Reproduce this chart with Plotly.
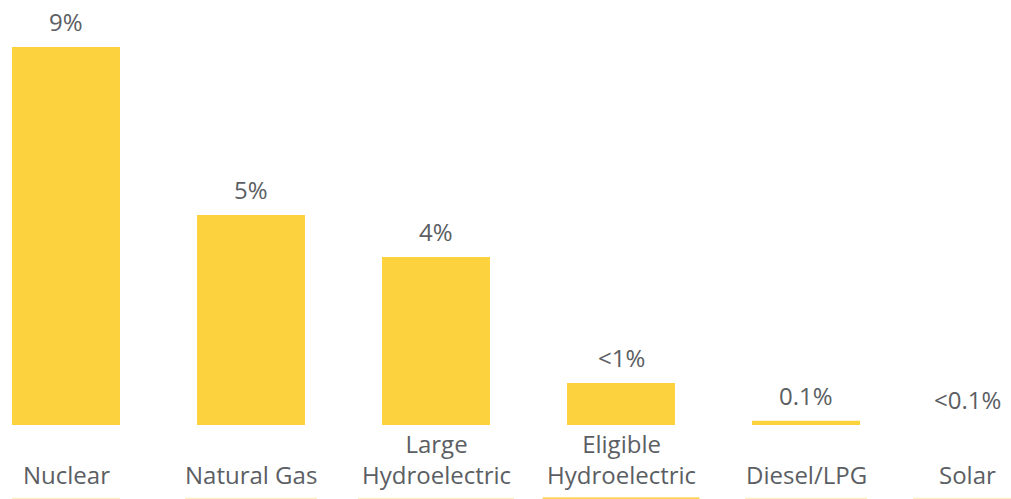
import plotly.graph_objects as go

categories = ["Nuclear", "Natural Gas", "Large<br>Hydroelectric", "Eligible<br>Hydroelectric", "Diesel/LPG", "Solar"]
values = [9, 5, 4, 1, 0.1, 0]
value_labels = ["9%", "5%", "4%", "<1%", "0.1%", "<0.1%"]

BAR = "#FDD23F"
TEXT = "#5B5E63"
FONT = "Open Sans"
FS = 24

# styling (pixel widths of label underlines and horizontal nudges)
underline_w = [108, 132, 156, 157, 122, 108]
label_shift = [0, 0, 0, 0, 0, -24]
underline_col = ["#FEEBB0", "#FEEBB0", "#FEEBB0", "#FCD65A", "#FEEBB0", "#FEEBB0"]

xs = list(range(len(categories)))

fig = go.Figure(go.Bar(x=xs, y=values, marker=dict(color=BAR, line=dict(width=0)),
                       width=108 / 185, hoverinfo="skip"))

annotations = []
shapes = []
for i, (c, v, t) in enumerate(zip(categories, values, value_labels)):
    annotations.append(dict(x=xs[i], y=v, xref="x", yref="y", text=t, showarrow=False,
                            yanchor="bottom", yshift=7, xshift=label_shift[i],
                            font=dict(family=FONT, size=FS, color=TEXT)))
    annotations.append(dict(x=xs[i], y=0, xref="x", yref="y", text=c, showarrow=False,
                            yanchor="bottom", yshift=-68, xshift=label_shift[i],
                            font=dict(family=FONT, size=FS, color=TEXT)))
    w = underline_w[i]
    shapes.append(dict(type="line", xref="x", yref="paper", xsizemode="pixel",
                       xanchor=xs[i], x0=label_shift[i] - w / 2, x1=label_shift[i] + w / 2,
                       y0=-0.1725, y1=-0.1725,
                       line=dict(color=underline_col[i], width=2 if i == 3 else 1)))

fig.update_layout(
    width=1011, height=499,
    margin=dict(l=0, r=0, t=0, b=74),
    paper_bgcolor="white", plot_bgcolor="white",
    showlegend=False,
    xaxis=dict(range=[-66 / 185, -66 / 185 + 1011 / 185], showticklabels=False,
               showgrid=False, zeroline=False, showline=False, ticks=""),
    yaxis=dict(range=[0, 425 / 42], showticklabels=False, showgrid=False,
               zeroline=False, showline=False, ticks=""),
    annotations=annotations,
    shapes=shapes,
    font=dict(family=FONT, color=TEXT),
)

fig.write_html("out.html")
